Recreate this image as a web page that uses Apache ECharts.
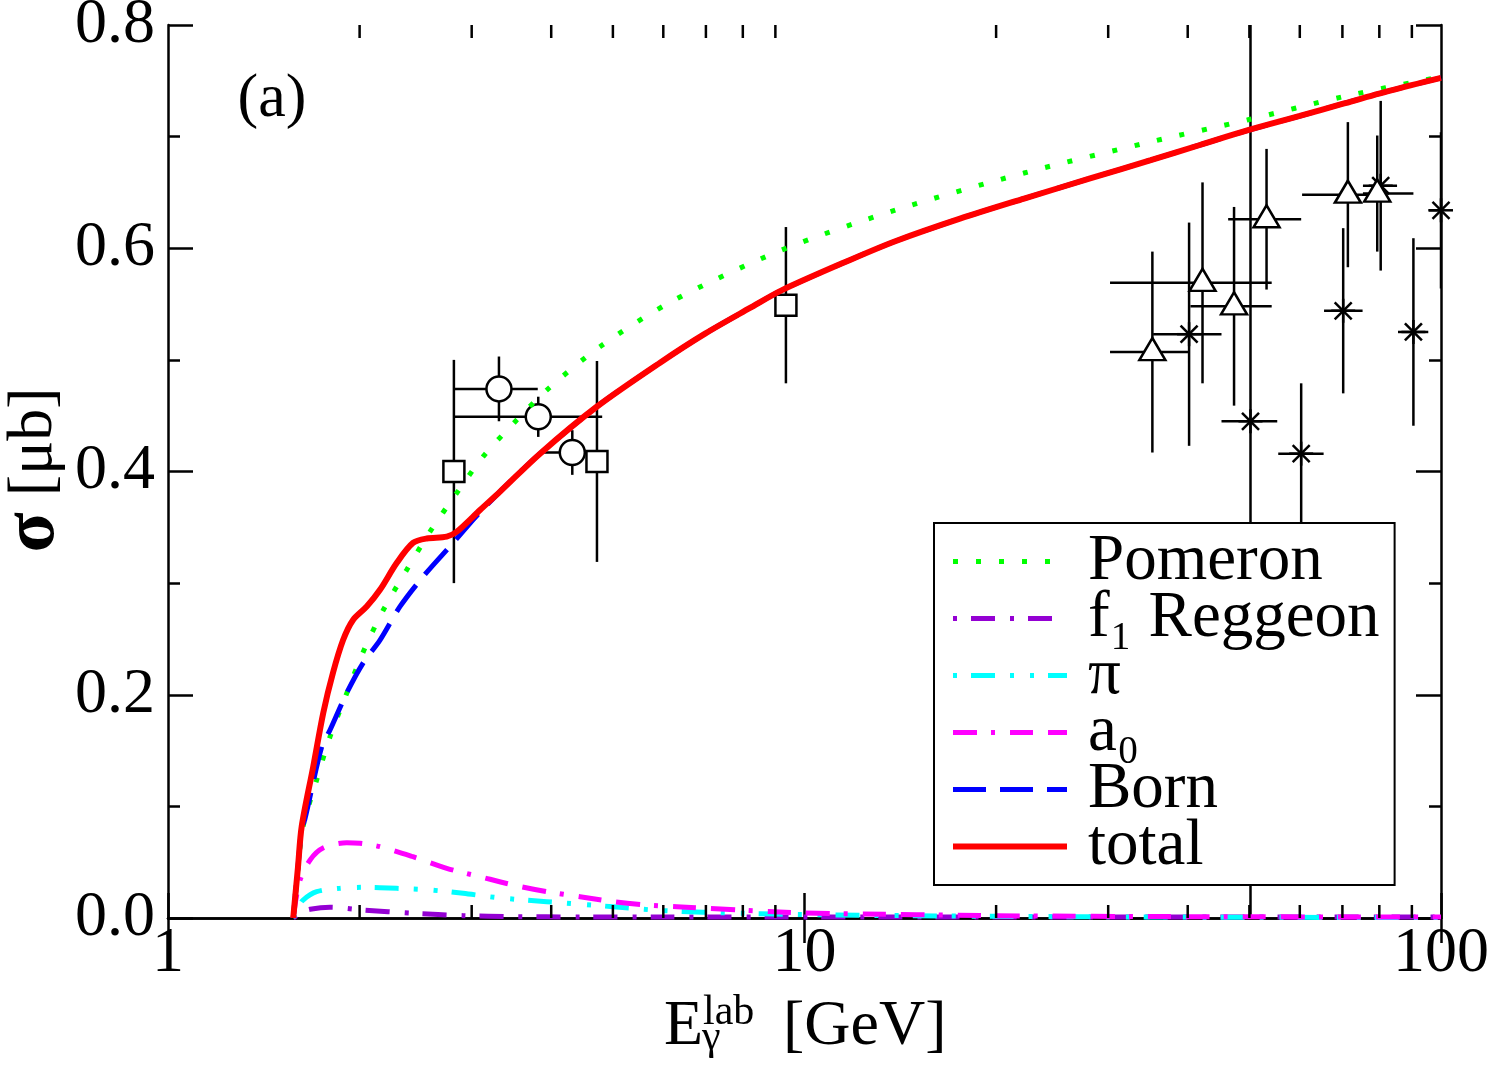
<!DOCTYPE html>
<html>
<head>
<meta charset="utf-8">
<script src="https://cdn.jsdelivr.net/npm/echarts@6/dist/echarts.min.js"></script>
<style>
  html, body { margin: 0; padding: 0; background: #fff; }
  #chart { width: 1494px; height: 1073px; }
</style>
</head>
<body>
<div id="chart"></div>
<script>
// curves: energy [GeV] and cross section [μb]
const pomeronE = [1.573, 1.60, 1.630, 1.712, 1.797, 1.909, 2.027, 2.179, 2.371, 2.58, 2.842, 3.126, 3.51, 3.936, 4.771, 6.216, 9.21, 13.92, 22.13, 35.1, 49.6, 70.2, 100];
const pomeronS = [0, 0.045, 0.082, 0.1236, 0.1624, 0.2013, 0.2386, 0.2759, 0.3118, 0.3461, 0.3807, 0.4133, 0.4446, 0.473, 0.5118, 0.553, 0.5984, 0.6343, 0.6674, 0.6955, 0.7149, 0.7358, 0.7537];

const f1E = [1.573, 1.62, 1.672, 1.797, 2.025, 2.426, 2.908, 3.484, 4.44, 6, 10, 30, 100];
const f1S = [0, 0.005, 0.0078, 0.0096, 0.0072, 0.0042, 0.0021, 0.0012, 0.001, 0.001, 0.001, 0.001, 0.001];

const piE = [1.573, 1.60, 1.63, 1.712, 1.863, 2.025, 2.287, 2.58, 2.908, 3.284, 3.936, 5.003, 5.995, 8, 10, 20, 40, 100];
const piS = [0, 0.009, 0.0161, 0.0236, 0.0266, 0.0275, 0.0266, 0.0251, 0.0221, 0.0183, 0.0146, 0.0101, 0.0066, 0.0042, 0.003, 0.0015, 0.0008, 0.0004];

const a0E = [1.573, 1.59, 1.612, 1.672, 1.752, 1.909, 2.003, 2.153, 2.426, 2.741, 3.092, 3.484, 3.936, 4.439, 5.003, 5.65, 6.3, 8, 10, 15, 20, 40, 100];
const a0S = [0, 0.018, 0.034, 0.052, 0.0627, 0.0675, 0.0669, 0.0639, 0.0549, 0.0445, 0.037, 0.0296, 0.0236, 0.0191, 0.0146, 0.0116, 0.0101, 0.007, 0.0045, 0.003, 0.002, 0.0012, 0.0008];

const totalE = [1.573, 1.60, 1.622, 1.691, 1.754, 1.816, 1.884, 1.953, 2.052, 2.153, 2.287, 2.426, 2.55, 2.741, 2.842, 3.092, 3.324, 3.841, 4.716, 5.93, 6.98, 8.21, 9.22, 11.79, 13.92, 17.55, 22.13, 28.1, 35.0, 41.8, 49.6, 60.0, 70.2, 83.2, 100];
const totalS = [0, 0.045, 0.082, 0.1355, 0.184, 0.2195, 0.249, 0.267, 0.279, 0.294, 0.318, 0.336, 0.340, 0.3416, 0.346, 0.3655, 0.382, 0.416, 0.458, 0.4975, 0.5235, 0.5465, 0.5625, 0.5895, 0.6065, 0.6265, 0.6445, 0.6625, 0.679, 0.6925, 0.7055, 0.7185, 0.7295, 0.7412, 0.7526];

// Born runs under the total curve above ~3 GeV
const bornE = [1.573, 1.60, 1.622, 1.64, 1.744, 1.797, 1.909, 2.025, 2.153, 2.314, 2.516, 2.804, 3.014, 3.092, 3.324, 3.841, 4.716, 5.93, 6.98, 8.21, 9.22, 11.79, 13.92, 17.55, 22.13, 28.1, 35.0, 41.8, 49.6, 60.0, 70.2, 83.2, 100];
const bornS = [0, 0.045, 0.08, 0.088, 0.1535, 0.1684, 0.2016, 0.2284, 0.249, 0.2789, 0.3058, 0.336, 0.3566, 0.3635, 0.382, 0.416, 0.458, 0.4975, 0.5235, 0.5465, 0.5625, 0.5895, 0.6065, 0.6265, 0.6445, 0.6625, 0.679, 0.6925, 0.7055, 0.7185, 0.7295, 0.7412, 0.7526];

// data points: [E, sigma, error, E low, E high]
const squares = [[2.813, 0.40, 0.10, 2.813, 2.813], [4.72, 0.409, 0.09, 4.72, 4.72], [9.35, 0.549, 0.07, 9.35, 9.35]];
const circles = [[3.311, 0.474, 0.029, 2.813, 3.81], [3.817, 0.449, 0.018, 2.813, 4.81], [4.317, 0.417, 0.02, 3.89, 4.79]];
const triangles = [[35.2, 0.507, 0.09, 30.2, 40.1], [42.2, 0.569, 0.09, 30.2, 54.2], [47.3, 0.548, 0.089, 40.4, 54.2],
  [53.2, 0.626, 0.063, 46.3, 60.3], [71.4, 0.648, 0.065, 60.5, 77], [79.4, 0.649, 0.052, 75.4, 90.5]];
const stars = [[40.2, 0.523, 0.10, 35.3, 45.2], [50.2, 0.445, 0.5, 45.2, 55.3], [60.3, 0.416, 0.063, 55.5, 65.4],
  [70.2, 0.544, 0.074, 65.5, 75.3], [80.4, 0.656, 0.076, 75.4, 85.3], [90.5, 0.525, 0.084, 85.6, 95.5], [100, 0.634, 0.07, 95.5, 105]];

const xMinorTicks = [2, 3, 4, 5, 6, 7, 8, 9, 20, 30, 40, 50, 60, 70, 80, 90];
const legendNames = ['Pomeron', 'f\u2081 Reggeon', '\u03c0', 'a\u2080', 'Born', 'total'];

const FONT = 'Liberation Serif';

const styles = {
  'Pomeron': { color: '#00ff00', width: 5, type: [5, 18] },
  'f\u2081 Reggeon': { color: '#9400d3', width: 5, type: [4, 14, 24, 15] },
  '\u03c0': { color: '#00ffff', width: 5, type: [4, 14, 24, 15, 4, 16] },
  'a\u2080': { color: '#ff00ff', width: 5, type: [24, 14, 4, 15, 23, 15] },
  'Born': { color: '#0000ff', width: 5, type: [33, 14] },
  'total': { color: '#ff0000', width: 6, type: 'solid' }
};

function pairs(xs, ys) {
  return xs.map((x, i) => [x, ys[i]]);
}

function curve(name, xs, ys, z) {
  const st = styles[name];
  return {
    name: name,
    type: 'line',
    data: pairs(xs, ys),
    symbol: 'none',
    showSymbol: false,
    smooth: 0.3,
    z: z,
    lineStyle: { color: st.color, width: st.width, type: st.type, cap: 'butt' },
    itemStyle: { color: st.color }
  };
}

function ln(x1, y1, x2, y2) {
  return { type: 'line', shape: { x1: x1, y1: y1, x2: x2, y2: y2 }, style: { stroke: '#000', lineWidth: 2.5 } };
}

// error bars, clipped to the frame
function errorBars(data) {
  return {
    type: 'custom',
    data: data,
    clip: true,
    z: 3,
    silent: true,
    renderItem: function (params, api) {
      const e = api.value(0), s = api.value(1), d = api.value(2);
      const top = api.coord([e, s + d]);
      const bot = api.coord([e, s - d]);
      const l = api.coord([api.value(3), s]);
      const r = api.coord([api.value(4), s]);
      return { type: 'group', children: [ln(top[0], top[1], bot[0], bot[1]), ln(l[0], l[1], r[0], r[1])] };
    }
  };
}

function openMarks(data, symbol, size, offset) {
  return {
    type: 'scatter',
    data: data.map(d => [d[0], d[1]]),
    symbol: symbol,
    symbolSize: size,
    symbolOffset: offset || [0, 0],
    z: 4,
    silent: true,
    itemStyle: { color: '#fff', borderColor: '#000', borderWidth: 2.5, opacity: 1 }
  };
}

const chart = echarts.init(document.getElementById('chart'));

const yAxisBase = {
  type: 'value',
  min: 0,
  max: 0.8,
  interval: 0.2,
  axisLine: { show: true, lineStyle: { color: '#000', width: 2.5 } },
  axisTick: { show: true, inside: true, length: 25, lineStyle: { color: '#000', width: 2.5 } },
  minorTick: { show: true, splitNumber: 2, length: 12, lineStyle: { color: '#000', width: 2.5 } },
  splitLine: { show: false }
};

const xAxisBase = {
  type: 'log',
  logBase: 10,
  min: 1,
  max: 100,
  interval: 1,
  axisLine: { show: true, lineStyle: { color: '#000', width: 2.5 } },
  axisTick: { show: true, inside: true, length: 25, lineStyle: { color: '#000', width: 2.5 } },
  splitLine: { show: false }
};

chart.setOption({
  animation: false,
  backgroundColor: '#fff',
  grid: { left: 168, right: 53, top: 25, bottom: 155, containLabel: false, outerBoundsMode: 'none' },
  xAxis: [
    Object.assign({}, xAxisBase, {
      position: 'bottom',
      axisLabel: {
        show: true, margin: 4, color: '#000', fontFamily: FONT, fontSize: 64,
        formatter: v => String(Math.round(v))
      }
    }),
    Object.assign({}, xAxisBase, { position: 'top', axisLabel: { show: false } })
  ],
  yAxis: [
    Object.assign({}, yAxisBase, {
      position: 'left',
      axisLabel: { show: true, margin: 13, color: '#000', fontFamily: FONT, fontSize: 64, formatter: v => v.toFixed(1) }
    }),
    Object.assign({}, yAxisBase, { position: 'right', axisLabel: { show: false } })
  ],
  legend: {
    data: legendNames.map(n => ({
      name: n,
      itemStyle: { opacity: 0 },
      lineStyle: { color: styles[n].color, width: styles[n].width, type: styles[n].type, cap: 'butt' }
    })),
    orient: 'vertical',
    left: 934,
    top: 523,
    padding: [6, 15, 6, 16],
    itemWidth: 114,
    itemHeight: 14,
    itemGap: -8,
    selectedMode: false,
    backgroundColor: '#fff',
    borderColor: '#000',
    borderWidth: 2,
    textStyle: { color: '#000', fontFamily: FONT, fontSize: 65, padding: [0, 0, 0, 16] }
  },
  graphic: [
    { type: 'text', x: 272, y: 100, z: 10,
      style: { text: '(a)', font: '62px "Liberation Serif"', fill: '#000', align: 'center', verticalAlign: 'middle', textAlign: 'center', textVerticalAlign: 'middle' } },
    { type: 'text', x: 664, y: 1027, z: 10,
      style: { text: 'E', font: '64px "Liberation Serif"', fill: '#000', align: 'left', verticalAlign: 'middle', textAlign: 'left', textVerticalAlign: 'middle' } },
    { type: 'text', x: 703, y: 1013, z: 10,
      style: { text: 'lab', font: '42px "Liberation Serif"', fill: '#000', align: 'left', verticalAlign: 'middle', textAlign: 'left', textVerticalAlign: 'middle' } },
    { type: 'text', x: 702, y: 1038, z: 10,
      style: { text: '\u03b3', font: '42px "Liberation Serif"', fill: '#000', align: 'left', verticalAlign: 'middle', textAlign: 'left', textVerticalAlign: 'middle' } },
    { type: 'text', x: 783, y: 1027, z: 10,
      style: { text: '[GeV]', font: '64px "Liberation Serif"', fill: '#000', align: 'left', verticalAlign: 'middle', textAlign: 'left', textVerticalAlign: 'middle' } },
    { type: 'text', x: 34, y: 470, rotation: Math.PI / 2, z: 10,
      style: { text: '{s|\u03c3} [\u03bcb]', font: '64px "Liberation Serif"', fill: '#000', align: 'center', verticalAlign: 'middle', textAlign: 'center', textVerticalAlign: 'middle',
        rich: { s: { fontFamily: FONT, fontSize: 74, fontWeight: 'bold', fill: '#000' } } } }
  ],
  series: [
    // minor ticks of the log axes, bottom and top
    {
      type: 'custom',
      data: xMinorTicks.map(v => [v, 0]),
      silent: true,
      z: 6,
      renderItem: function (params, api) {
        const e = api.value(0);
        const b = api.coord([e, 0]);
        const t = api.coord([e, 0.8]);
        return { type: 'group', children: [ln(b[0], b[1], b[0], b[1] - 13), ln(t[0], t[1], t[0], t[1] + 13)] };
      }
    },
    errorBars(squares),
    errorBars(circles),
    errorBars(triangles),
    errorBars(stars),
    openMarks(squares, 'rect', 21),
    openMarks(circles, 'circle', 25),
    openMarks(triangles, 'triangle', [26, 22], [0, -3]),
    // asterisks, not clipped
    {
      type: 'custom',
      data: stars,
      silent: true,
      z: 4,
      renderItem: function (params, api) {
        const p = api.coord([api.value(0), api.value(1)]);
        const h = 12, d = 8.5;
        return { type: 'group', children: [
          ln(p[0] - h, p[1], p[0] + h, p[1]),
          ln(p[0], p[1] - h, p[0], p[1] + h),
          ln(p[0] - d, p[1] - d, p[0] + d, p[1] + d),
          ln(p[0] - d, p[1] + d, p[0] + d, p[1] - d)
        ] };
      }
    },
    curve(legendNames[0], pomeronE, pomeronS, 5),
    curve(legendNames[1], f1E, f1S, 5),
    curve(legendNames[2], piE, piS, 5),
    curve(legendNames[3], a0E, a0S, 5),
    curve(legendNames[4], bornE, bornS, 5),
    curve(legendNames[5], totalE, totalS, 6)
  ]
});
</script>
</body>
</html>
